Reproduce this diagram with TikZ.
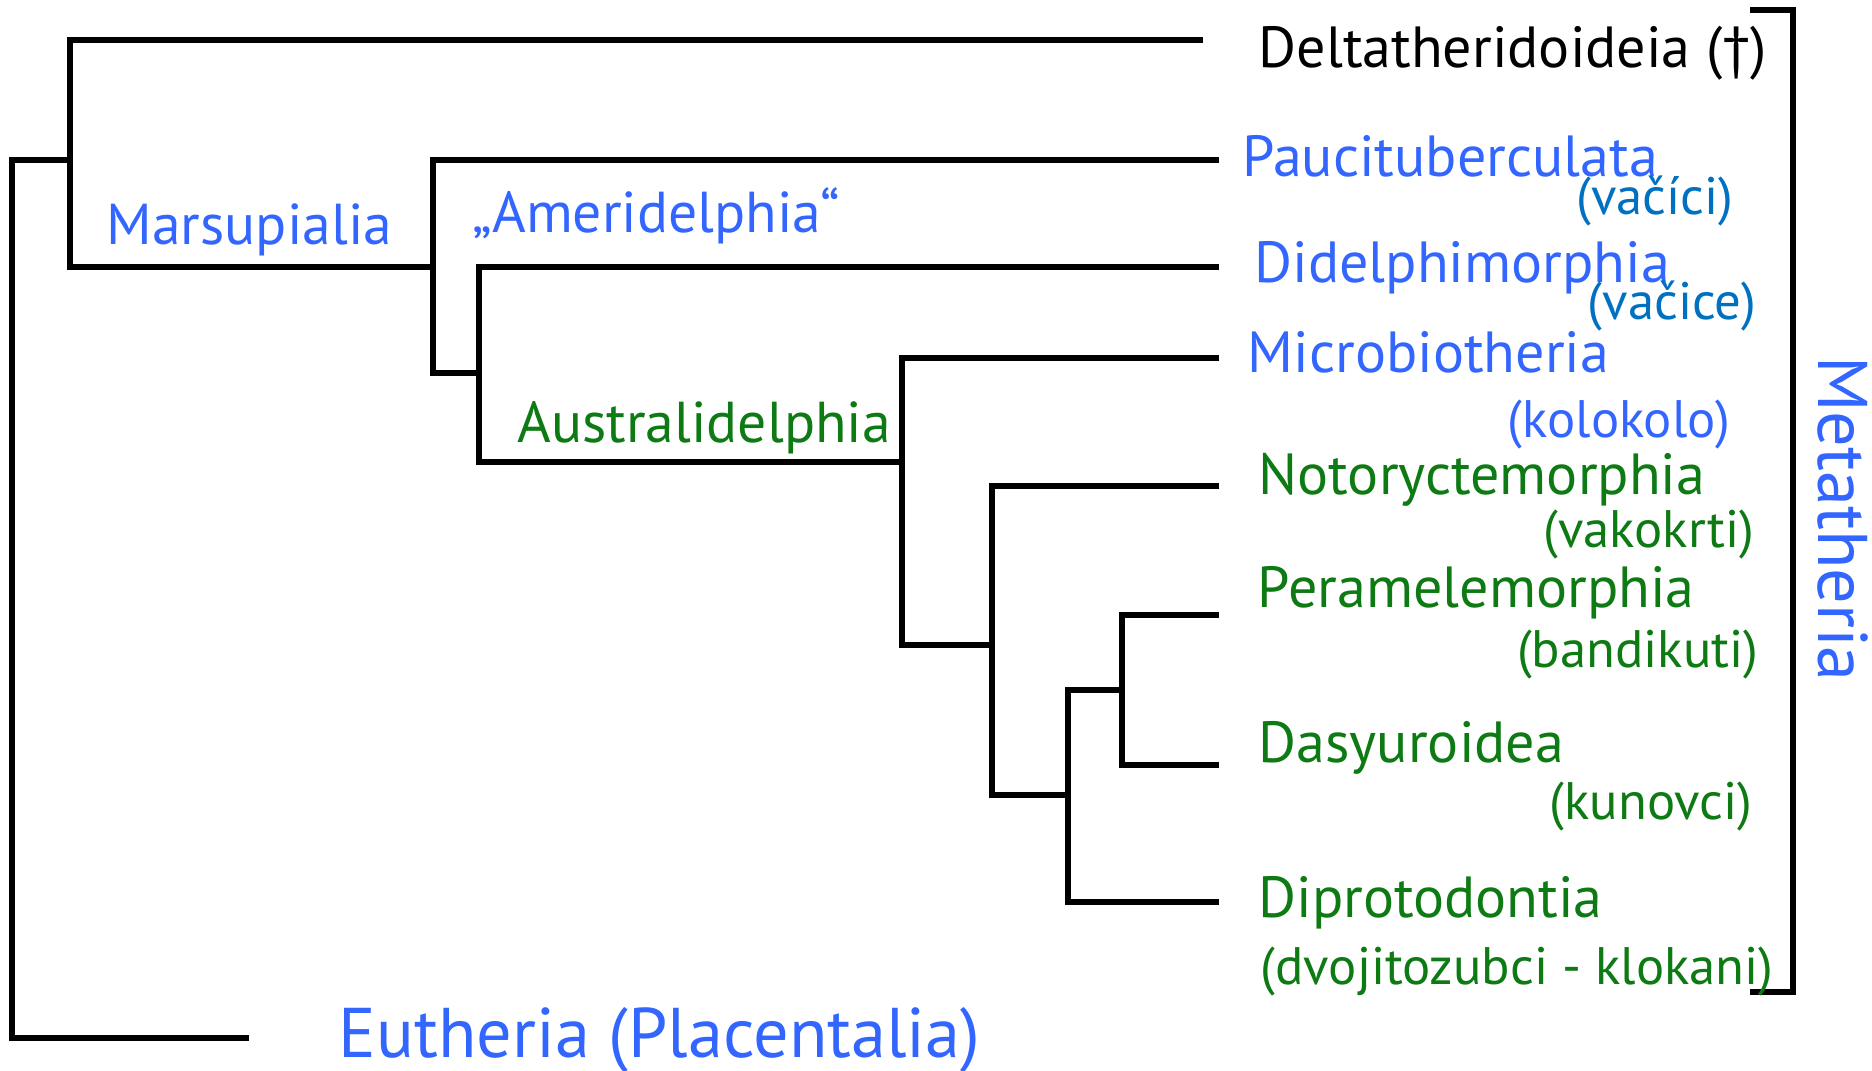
\documentclass[tikz,border=0pt]{standalone}
\usepackage{fontspec}
\setmainfont{PT Sans}
\usetikzlibrary{positioning}

\definecolor{cladeblue}{RGB}{51,102,255}
\definecolor{vernblue}{RGB}{0,112,192}
\definecolor{cladegreen}{RGB}{14,122,20}

\begin{document}
\begin{tikzpicture}[x=0.01cm, y=-0.01cm,
    branch/.style={line width=1.8pt},
    taxon/.style={anchor=base west, inner sep=0pt, font=\fontsize{16.5}{20}\selectfont},
    cladename/.style={anchor=base west, inner sep=0pt, font=\fontsize{16.4}{20}\selectfont},
    vernac/.style={anchor=base east, inner sep=0pt, font=\fontsize{15}{18}\selectfont},
    bigname/.style={inner sep=0pt, text=cladeblue, font=\fontsize{20}{24}\selectfont}]

      \useasboundingbox (0,0) rectangle (1872,1071);

      % inner nodes %
      \coordinate (root) at (12,600);
      \coordinate (meta) at (70,160);
      \coordinate (mars) at (433,267);
      \coordinate (didaus) at (479,373);
      \coordinate (austr) at (902,462);
      \coordinate (eomet) at (992,645);
      \coordinate (agr) at (1068,795);
      \coordinate (pd) at (1122,690);

      % tips %
      \coordinate (t-euth) at (249,1038);
      \coordinate (t-delta) at (1203,40);
      \coordinate (t-pauci) at (1219,160);
      \coordinate (t-didel) at (1219,267);
      \coordinate (t-micro) at (1219,358);
      \coordinate (t-noto) at (1219,486);
      \coordinate (t-peram) at (1219,615);
      \coordinate (t-dasy) at (1219,765);
      \coordinate (t-dipro) at (1219,902);

      % bracket %
      \coordinate (br-top) at (1750,10);
      \coordinate (br-mid) at (1793,500);
      \coordinate (br-bot) at (1750,992);

      % edges %
      \draw[branch] (meta) -| (root) |- (t-euth);
      \draw[branch] (t-delta) -| (meta) |- (mars);
      \draw[branch] (t-pauci) -| (mars) |- (didaus);
      \draw[branch] (t-didel) -| (didaus) |- (austr);
      \draw[branch] (t-micro) -| (austr) |- (eomet);
      \draw[branch] (t-noto) -| (eomet) |- (agr);
      \draw[branch] (pd) -| (agr) |- (t-dipro);
      \draw[branch] (t-peram) -| (pd) |- (t-dasy);
      \draw[branch] (br-top) -| (br-mid) |- (br-bot);

      % clade names %
      \node[cladename, text=cladeblue] (marsup) at (106,245) {Marsupialia};
      \node[cladename, text=cladeblue] (amerid) at (472,233) {„Ameridelphia“};
      \node[cladename, text=cladegreen] (austral) at (517,443) {Australidelphia};
      \node[bigname, anchor=base west] (euth) at (338,1058) {Eutheria (Placentalia)};
      \node[bigname, rotate=-90] (metath) at (1843,519) {Metatheria};

      % tip names %
      \node[taxon] (delta) at (1258,68) {Deltatheridoideia (†)};
      \node[taxon, text=cladeblue] (pauci) at (1242,177) {Paucituberculata};
      \node[vernac, text=vernblue] (pauci-cz) at (1734,215) {(vačíci)};
      \node[taxon, text=cladeblue] (didel) at (1254,283) {Didelphimorphia};
      \node[vernac, text=vernblue] (didel-cz) at (1757,320) {(vačice)};
      \node[taxon, text=cladeblue] (micro) at (1247,373) {Microbiotheria};
      \node[vernac, text=cladeblue] (micro-cz) at (1731,438) {(kolokolo)};
      \node[taxon, text=cladegreen] (noto) at (1258,495) {Notoryctemorphia};
      \node[vernac, text=cladegreen] (noto-cz) at (1755,548) {(vakokrti)};
      \node[taxon, text=cladegreen] (peram) at (1257,608) {Peramelemorphia};
      \node[vernac, text=cladegreen] (peram-cz) at (1759,668) {(bandikuti)};
      \node[taxon, text=cladegreen] (dasy) at (1258,763) {Dasyuroidea};
      \node[vernac, text=cladegreen] (dasy-cz) at (1753,820) {(kunovci)};
      \node[taxon, text=cladegreen] (dipro) at (1258,918) {Diprotodontia};
      \node[vernac, anchor=base west, text=cladegreen] (dipro-cz) at (1260,985) {(dvojitozubci - klokani)};
\end{tikzpicture}
\end{document}
